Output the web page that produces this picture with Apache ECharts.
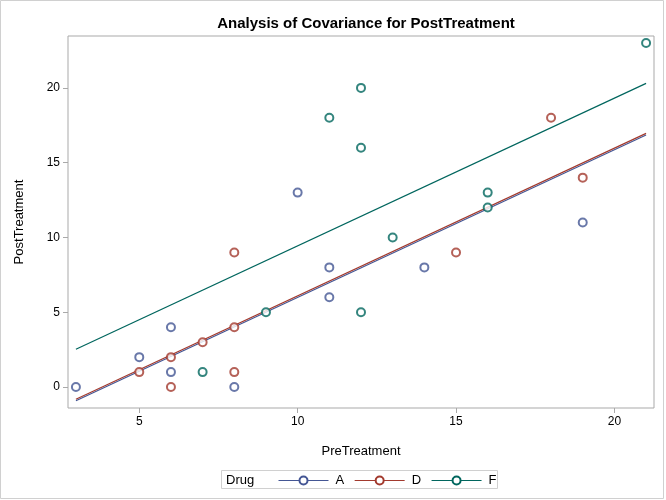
<!DOCTYPE html>
<html>
<head>
<meta charset="utf-8">
<title>Analysis of Covariance for PostTreatment</title>
<script src="https://cdn.jsdelivr.net/npm/echarts@6/dist/echarts.min.js"></script>
<style>
  html, body { margin: 0; padding: 0; background: #fff; }
  #chart { width: 666px; height: 500px; }
</style>
</head>
<body>
<div id="chart"></div>
<script>
// 原始数据 (PreTreatment, PostTreatment)
const drugs = ['A', 'D', 'F']
const colors = ['#445694', '#A23A2E', '#01665E']

const preA = [11, 8, 5, 14, 19, 6, 10, 6, 11, 3]
const postA = [6, 0, 2, 8, 11, 4, 13, 1, 8, 0]
const preD = [6, 6, 7, 8, 18, 8, 19, 8, 5, 15]
const postD = [0, 2, 3, 1, 18, 4, 14, 9, 1, 9]
const preF = [16, 13, 11, 9, 21, 16, 12, 12, 7, 12]
const postF = [13, 10, 18, 5, 23, 12, 5, 16, 1, 20]

// 拟合线的两端 (x = 3 和 x = 21)
const fitX = [3, 21]
const fitA = [-0.92, 16.85]
const fitD = [-0.81, 16.96]
const fitF = [2.53, 20.30]

const xTicks = [5, 10, 15, 20]
const yTicks = [0, 5, 10, 15, 20]

const pre = [preA, preD, preF]
const post = [postA, postD, postF]
const fits = [fitA, fitD, fitF]

const font = 'Liberation Sans, Arial, sans-serif'

const myCharts = echarts.init(document.getElementById('chart'))

const series = []
// 拟合线 (图例用它)
drugs.forEach((d, i) => {
    series.push({
        name: d,
        type: 'line',
        data: fitX.map((x, k) => [x, fits[i][k]]),
        symbol: 'emptyCircle',
        symbolSize: 8,
        showSymbol: false,
        lineStyle: { color: colors[i], width: 1.2 },
        itemStyle: { color: colors[i], borderWidth: 1 },
        silent: true,
        z: 2
    })
})
// 散点
drugs.forEach((d, i) => {
    series.push({
        name: d,
        type: 'scatter',
        data: pre[i].map((x, k) => [x, post[i][k]]),
        symbol: 'emptyCircle',
        symbolSize: 8,
        itemStyle: { color: colors[i], borderColor: colors[i], borderWidth: 1 },
        z: 3
    })
})

const option = {
    backgroundColor: '#fff',
    animation: false,
    title: {
        text: 'Analysis of Covariance for PostTreatment',
        left: 361,
        textAlign: 'center',
        top: 11,
        textStyle: { fontFamily: font, fontSize: 15, fontWeight: 'bold', color: '#000' }
    },
    grid: {
        left: 68, right: 12, top: 36, bottom: 92,
        show: true, borderColor: '#a9a9a9', borderWidth: 1
    },
    legend: {
        data: drugs,
        left: 273,
        top: 469,
        itemWidth: 50,
        itemHeight: 10,
        itemGap: 10,
        lineStyle: { width: 1 },
        itemStyle: { borderWidth: 1 },
        textStyle: { fontFamily: font, fontSize: 13, color: '#000', padding: [0, 0, 0, 2] }
    },
    graphic: [
        {
            type: 'rect',
            shape: { x: 0.5, y: 0.5, width: 663, height: 498 },
            style: { fill: 'none', stroke: '#d0d0d0', lineWidth: 1 },
            silent: true
        },
        {
            type: 'rect',
            shape: { x: 221.5, y: 470.5, width: 276, height: 18 },
            style: { fill: 'none', stroke: '#d0d0d0', lineWidth: 1 },
            silent: true
        },
        {
            type: 'text',
            x: 226,
            y: 480,
            style: { text: 'Drug', font: '13px ' + font, fill: '#000', verticalAlign: 'middle' },
            silent: true
        }
    ],
    xAxis: {
        type: 'value',
        min: 2.75,
        max: 21.25,
        name: 'PreTreatment',
        nameLocation: 'middle',
        nameGap: 37,
        nameTextStyle: { fontFamily: font, fontSize: 13, color: '#000' },
        axisLine: { show: false, onZero: false },
        axisTick: { show: true, length: 5, customValues: xTicks, lineStyle: { color: '#a9a9a9' } },
        axisLabel: { customValues: xTicks, fontFamily: font, fontSize: 12, color: '#000', margin: 8 },
        splitLine: { show: false }
    },
    yAxis: {
        type: 'value',
        min: -1.4,
        max: 23.47,
        name: 'PostTreatment',
        nameLocation: 'middle',
        nameGap: 42,
        nameTextStyle: { fontFamily: font, fontSize: 13, color: '#000' },
        axisLine: { show: false, onZero: false },
        axisTick: { show: true, length: 5, customValues: yTicks, lineStyle: { color: '#a9a9a9' } },
        axisLabel: { customValues: yTicks, fontFamily: font, fontSize: 12, color: '#000', margin: 8 },
        splitLine: { show: false }
    },
    series: series
}

myCharts.setOption(option)

window.addEventListener('resize', () => {
    myCharts.resize()
})
</script>
</body>
</html>
